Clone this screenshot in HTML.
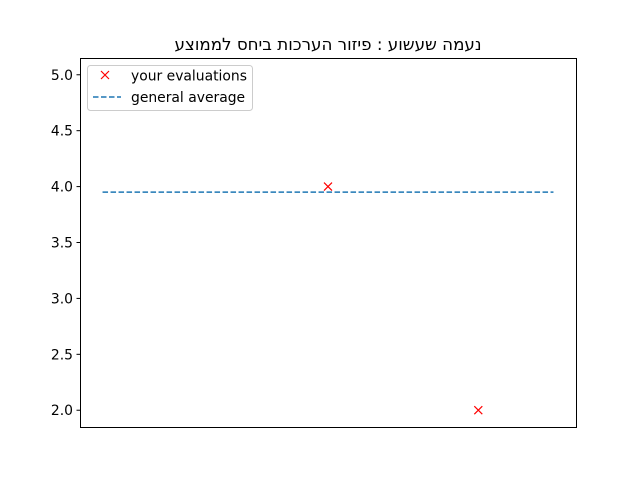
<!DOCTYPE html>
<html><head><meta charset="utf-8">
<style>
body{margin:0;background:#fff;}
svg text{font-family:"DejaVu Sans","Liberation Sans",sans-serif;}
</style></head>
<body>
<svg id="chart" width="640" height="480" xmlns="http://www.w3.org/2000/svg">
<rect width="640" height="480" fill="#fff"/>
<text x="328" y="50" text-anchor="middle" font-size="16.7" style="unicode-bidi:bidi-override;direction:ltr">עצוממל סחיב תוכרעה רוזיפ : עושעש המענ</text>
<g id="ticks"></g>
<g id="marks"></g>
<rect x="80.5" y="58.5" width="496" height="369" fill="none" stroke="#000" stroke-width="1"/>
<g>
<rect x="87.5" y="65.5" width="165" height="45" rx="3" fill="#fff" fill-opacity="0.8" stroke="#ccc"/>
<g>
<path d="M101,71 l8,8 M109,71 l-8,8" stroke="red" stroke-width="1.2"/>
<text x="131" y="80.5" font-size="13.9">your evaluations</text>
</g>
<g>
<line x1="93" y1="97" x2="121" y2="97" stroke="#1f77b4" stroke-width="1.5" stroke-dasharray="5.5,2.5"/>
<text x="131" y="102" font-size="13.9">general average</text>
</g>
</g>
</svg>
<script>
const xPoints=[3,5];
const yPoints=[4.0,2.0];
const avgX=[0,6];
const avgValue=3.95;
const yTicks=[2.0,2.5,3.0,3.5,4.0,4.5,5.0];
const yTickLabels=["2.0","2.5","3.0","3.5","4.0","4.5","5.0"];
const NS="http://www.w3.org/2000/svg";
const L=80,R=576,T=58,B=427;
const xmin=-0.3,xmax=6.3,ymin=1.85,ymax=5.15;
const sx=v=>L+(v-xmin)/(xmax-xmin)*(R-L);
const sy=v=>B-(v-ymin)/(ymax-ymin)*(B-T);
const tg=document.getElementById('ticks');
yTicks.forEach((t,i)=>{
 const y=sy(t);
 const ln=document.createElementNS(NS,'line');
 ln.setAttribute('x1',L-3.5);ln.setAttribute('x2',L);ln.setAttribute('y1',y);ln.setAttribute('y2',y);
 ln.setAttribute('stroke','#000');
 
 
 tg.appendChild(ln);
 const tx=document.createElementNS(NS,'text');
 tx.setAttribute('x',L-7);tx.setAttribute('y',y+5);tx.setAttribute('text-anchor','end');tx.setAttribute('font-size','13.9');
 tx.textContent=yTickLabels[i];
 
 
 tg.appendChild(tx);
});
const mg=document.getElementById('marks');
const al=document.createElementNS(NS,'line');
al.setAttribute('x1',sx(avgX[0]));al.setAttribute('x2',sx(avgX[1]));
al.setAttribute('y1',sy(avgValue));al.setAttribute('y2',sy(avgValue));
al.setAttribute('stroke','#1f77b4');al.setAttribute('stroke-width','1.5');al.setAttribute('stroke-dasharray','5.5,2.5');


mg.appendChild(al);
xPoints.forEach((x,i)=>{
 const cx=sx(x),cy=sy(yPoints[i]);
 const p=document.createElementNS(NS,'path');
 p.setAttribute('d',`M${cx-4},${cy-4} L${cx+4},${cy+4} M${cx+4},${cy-4} L${cx-4},${cy+4}`);
 p.setAttribute('stroke','red');p.setAttribute('stroke-width','1.2');
 
 
 mg.appendChild(p);
});
</script>
</body></html>
